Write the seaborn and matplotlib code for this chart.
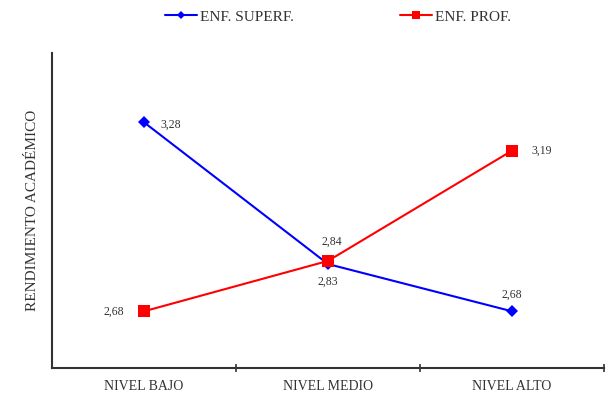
import matplotlib
matplotlib.use("Agg")
import matplotlib.pyplot as plt
import seaborn as sns
import pandas as pd

categories = ["NIVEL BAJO", "NIVEL MEDIO", "NIVEL ALTO"]
series_names = ["ENF. SUPERF.", "ENF. PROF."]
superf = [3.28, 2.83, 2.68]
prof = [2.68, 2.84, 3.19]
ylabel = "RENDIMIENTO ACADÉMICO"

sns.set_theme(style="white")
plt.rcParams['font.family'] = ['Liberation Serif', 'DejaVu Serif']

df = pd.DataFrame({
    "x": list(range(len(categories))) * 2,
    "y": superf + prof,
    "serie": [series_names[0]] * 3 + [series_names[1]] * 3,
})

fig = plt.figure(figsize=(6.08, 3.94), dpi=100)
ax = fig.add_axes([52/608, 26/394, 552/608, 315/394])

sns.lineplot(data=df, x="x", y="y", hue="serie",
             palette={series_names[0]: "#0000ff", series_names[1]: "#ff0000"},
             markers={series_names[0]: "D", series_names[1]: "s"},
             style="serie", dashes=False, linewidth=1.5, ax=ax,
             markeredgewidth=0)
for line in ax.lines:
    if line.get_marker() == "D":
        line.set_markersize(6)
    else:
        line.set_markersize(8)

ax.set_xlim(-0.5, 2.5)
ax.set_ylim(2.5, 3.5)
ax.set_xticks(range(3))
ax.set_xticklabels(categories, fontsize=10, color="#333333")
ax.set_xticks([0.5, 1.5, 2.5], minor=True)
ax.tick_params(axis="x", which="major", length=0, pad=9)
ax.tick_params(axis="x", which="minor", direction="inout", length=6, width=1.2, color="#333333", bottom=True)
ax.set_yticks([])
ax.set_xlabel("")
ax.set_ylabel(ylabel, fontsize=11, color="#333333", labelpad=9)
for s in ["top", "right"]:
    ax.spines[s].set_visible(False)
for s in ["left", "bottom"]:
    ax.spines[s].set_color("#333333")
    ax.spines[s].set_linewidth(1.5)

def fmt(v):
    return f"{v:.2f}".replace(".", ",")

kw = dict(fontsize=8.5, color="#333333")
ax.annotate(fmt(superf[0]), (0, superf[0]), xytext=(12, -2), textcoords="offset points", ha="left", va="center", **kw)
ax.annotate(fmt(superf[1]), (1, superf[1]), xytext=(0, -13), textcoords="offset points", ha="center", va="center", **kw)
ax.annotate(fmt(superf[2]), (2, superf[2]), xytext=(0, 12), textcoords="offset points", ha="center", va="center", **kw)
ax.annotate(fmt(prof[0]), (0, prof[0]), xytext=(-14, 0), textcoords="offset points", ha="right", va="center", **kw)
ax.annotate(fmt(prof[1]), (1, prof[1]), xytext=(3, 14), textcoords="offset points", ha="center", va="center", **kw)
ax.annotate(fmt(prof[2]), (2, prof[2]), xytext=(14, 0), textcoords="offset points", ha="left", va="center", **kw)

handles, labels = ax.get_legend_handles_labels()
leg = ax.legend(handles, labels, loc="upper center", bbox_to_anchor=(338/608, 1.01), bbox_transform=fig.transFigure,
                ncol=2, frameon=False, fontsize=11, columnspacing=6.9, handlelength=2.1, handletextpad=0.2,
                labelcolor="#333333")
for h in leg.legend_handles:
    if h.get_marker() == "D":
        h.set_markersize(4.5)
    else:
        h.set_markersize(6)

fig.savefig("out.png", dpi=100)
